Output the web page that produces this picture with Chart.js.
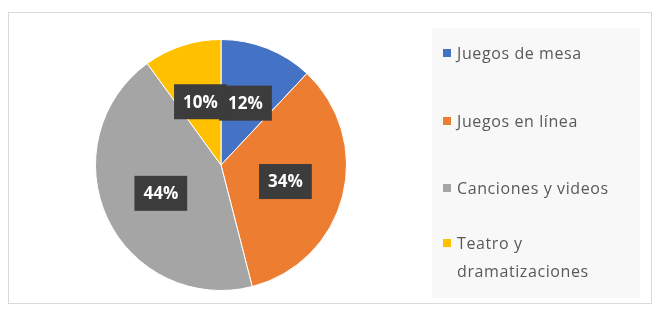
<!DOCTYPE html>
<html>
<head>
<meta charset="utf-8">
<script src="https://cdn.jsdelivr.net/npm/chart.js@4"></script>
<style>
  html, body { margin: 0; padding: 0; background: #fff; }
  #wrap { position: relative; width: 654px; height: 313px; }
  #frame { position: absolute; left: 8px; top: 12px; width: 642px; height: 290px; border: 1px solid #d9d9d9; }
  #legendBox { position: absolute; left: 432px; top: 28px; width: 208px; height: 270px; background: #f8f8f8; }
  canvas { position: absolute; left: 0; top: 0; }
  .item { position: absolute; left: 443px; font-family: "Open Sans", sans-serif; font-size: 16px; color: #595959; line-height: 28px; letter-spacing: 0.6px; }
  .sw { position: absolute; left: 0; top: 10px; width: 8px; height: 8px; }
  .txt { margin-left: 14px; }
</style>
</head>
<body>
<div id="wrap">
  <div id="frame"></div>
  <div id="legendBox"></div>
  <canvas id="chart" width="654" height="313"></canvas>
  <div id="legend"></div>
</div>
<script>
// data
const categories = ["Juegos de mesa", "Juegos en línea", "Canciones y videos", "Teatro y dramatizaciones"];
const legendLines = [["Juegos de mesa"], ["Juegos en línea"], ["Canciones y videos"], ["Teatro y", "dramatizaciones"]];
const values = [12, 34, 44, 10];
const colors = ["#4472C4", "#ED7D31", "#A5A5A5", "#FFC000"];

// dark boxed percentage labels
const boxLabels = {
  id: "boxLabels",
  afterDatasetsDraw(chart) {
    const ctx = chart.ctx;
    const meta = chart.getDatasetMeta(0);
    const total = values.reduce((a, b) => a + b, 0);
    ctx.save();
    ctx.font = "bold 17px 'Open Sans', sans-serif";
    ctx.textAlign = "center";
    ctx.textBaseline = "middle";
    meta.data.forEach((arc, i) => {
      const mid = (arc.startAngle + arc.endAngle) / 2;
      const r = arc.outerRadius * 0.53;
      const x = arc.x + Math.cos(mid) * r;
      const y = arc.y + Math.sin(mid) * r;
      const txt = Math.round(values[i] / total * 100) + "%";
      const w = ctx.measureText(txt).width + 18;
      const h = 35;
      ctx.fillStyle = "#3c3c3c";
      ctx.fillRect(x - w / 2, y - h / 2, w, h);
      ctx.fillStyle = "#ffffff";
      ctx.fillText(txt, x, y + 1);
    });
    ctx.restore();
  }
};

new Chart(document.getElementById("chart"), {
  type: "pie",
  data: {
    labels: categories,
    datasets: [{
      data: values,
      backgroundColor: colors,
      borderColor: "#ffffff",
      borderWidth: 1
    }]
  },
  options: {
    responsive: false,
    animation: false,
    layout: { padding: { left: 95, right: 307, top: 39, bottom: 22 } },
    plugins: { legend: { display: false }, tooltip: { enabled: false } }
  },
  plugins: [boxLabels]
});

// legend on the right
const legendTops = [39, 107, 174, 229];
const legend = document.getElementById("legend");
legendLines.forEach((lines, i) => {
  const d = document.createElement("div");
  d.className = "item";
  d.style.top = legendTops[i] + "px";
  d.innerHTML = '<span class="sw" style="background:' + colors[i] + '"></span>' +
    lines.map(l => '<div class="txt">' + l + '</div>').join("");
  legend.appendChild(d);
});
</script>
</body>
</html>
